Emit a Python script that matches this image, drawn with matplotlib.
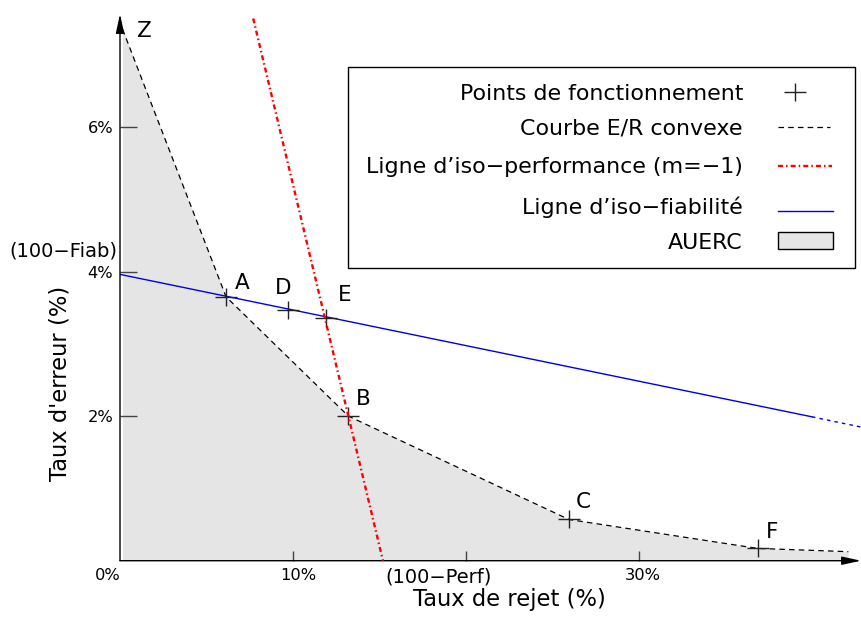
import matplotlib
matplotlib.use('Agg')
import matplotlib.pyplot as plt
from matplotlib.lines import Line2D
from matplotlib.patches import Rectangle
from matplotlib.path import Path
from matplotlib.transforms import ScaledTranslation

plt.rcParams['font.family'] = ['DejaVu Sans']
plt.rcParams['lines.scale_dashes'] = False

# Convex error/reject curve (reject rate %, error rate %)
curve_reject = [0.15, 6.13, 13.2, 25.95, 36.85, 42.1]
curve_error = [7.35, 3.65, 2.0, 0.57, 0.17, 0.125]

# Operating points
point_labels = ['A', 'D', 'E', 'B', 'C', 'F']
point_reject = [6.13, 9.73, 11.9, 13.2, 25.95, 36.85]
point_error = [3.65, 3.47, 3.36, 2.0, 0.57, 0.17]

# Iso-performance line (slope -1) through B
iso_perf_reject = [7.7, 15.2]
iso_perf_error = [7.5, 0.0]

# Iso-reliability line: solid part, then extrapolated part
iso_fiab_reject = [0.0, 40.0, 42.8]
iso_fiab_error = [3.96, 1.99, 1.85]

x_ticks = [0, 10, 20, 30]
x_tick_labels = ['0%', '10%', '(100\u2212Perf)', '30%']
y_ticks = [2, 4, 6]
y_tick_labels = ['2%', '4%', '6%']

legend_labels = ['Points de fonctionnement', 'Courbe E/R convexe',
                 'Ligne d\u2019iso\u2212performance (m=\u22121)',
                 'Ligne d\u2019iso\u2212fiabilit\u00e9', 'AUERC']

W, H = 861, 617
fig = plt.figure(figsize=(W / 100, H / 100), dpi=100)
x0, x1, y0, y1 = 120, 861, 560.7, 14
ax = fig.add_axes([x0 / W, 1 - y0 / H, (x1 - x0) / W, (y0 - y1) / H])
ax.set_xlim(0, (x1 - x0) / 17.3)
ax.set_ylim(0, (y0 - y1) / 72.3)

fill_c = '#e5e5e5'
cross_c = '#222222'
blue_c = '#0000e6'
dash_black = (4, 3)
dash_red = (3.6, 2.2, 1.1, 2.2)
# slightly wide '+' marker
cross = Path([(-1.26, 0), (1.26, 0), (0, -1), (0, 1)],
             [Path.MOVETO, Path.LINETO, Path.MOVETO, Path.LINETO])
cross_ms = 16.3

ax.fill_between(curve_reject, 0, curve_error, color=fill_c, lw=0, zorder=1)
ax.plot(curve_reject, curve_error, color='black', lw=0.9, dashes=dash_black, zorder=3)
ax.plot(iso_fiab_reject[:2], iso_fiab_error[:2], color=blue_c, lw=1.0, zorder=3)
ax.plot(iso_fiab_reject[1:], iso_fiab_error[1:], color=blue_c, lw=1.0,
        dashes=(2.5, 3), zorder=3)
ax.plot(point_reject, point_error, ls='none', marker=cross, ms=cross_ms, mew=1.0,
        color=cross_c, zorder=4)
ax.plot(iso_perf_reject, iso_perf_error, color='red', lw=1.7, dashes=dash_red, zorder=5)

# Point labels (offsets in pixels to the text baseline)
label_offsets = {'A': (15.7, 7.5), 'D': (-5.3, 15.8), 'E': (19, 17.2),
                 'B': (15, 11.5), 'C': (14, 11.5), 'F': (14.3, 10.8)}
for lab, xv, yv in zip(point_labels, point_reject, point_error):
    dx, dy = label_offsets[lab]
    ax.annotate(lab, (xv, yv), xytext=(dx, dy), textcoords='offset pixels',
                ha='center', va='baseline', fontsize=15.5, zorder=6)
ax.annotate('Z', (curve_reject[0], curve_error[0]), xytext=(21.5, -8.2),
            textcoords='offset pixels', ha='center', va='baseline', fontsize=15.5)
ax.annotate('(100\u2212Fiab)', (0, iso_fiab_error[0]), xytext=(-3, 18),
            textcoords='offset pixels', ha='right', va='baseline', fontsize=14,
            annotation_clip=False)

# Axes drawn as arrows
for spine in ax.spines.values():
    spine.set_visible(False)
arrow = dict(arrowstyle='-|>,head_length=1.15,head_width=0.25', color='black',
             lw=1.0, shrinkA=0, shrinkB=0, mutation_scale=10)
ax.annotate('', xy=(0, 1), xytext=(0, 0), xycoords='axes fraction', arrowprops=arrow,
            annotation_clip=False)
ax.annotate('', xy=(1, 0), xytext=(0, 0), xycoords='axes fraction', arrowprops=arrow,
            annotation_clip=False)

ax.set_xticks(x_ticks, x_tick_labels)
ax.set_yticks(y_ticks, y_tick_labels)
ax.tick_params(axis='x', direction='in', length=7.2, width=1, color='#444444',
               labelsize=11.7, pad=5)
ax.tick_params(axis='y', direction='in', length=12.2, width=1, color='#444444',
               labelsize=11.7, pad=5)
shifts = [-12, 5, -27, 4]
for lab, dx in zip(ax.get_xticklabels(), shifts):
    lab.set_transform(lab.get_transform() + ScaledTranslation(dx / 100, 0, fig.dpi_scale_trans))
ax.get_xticklabels()[2].set_fontsize(14)
ax.xaxis.get_major_ticks()[0].tick1line.set_visible(False)

ax.set_xlabel('Taux de rejet (%)', fontsize=16.3)
ax.set_ylabel("Taux d'erreur (%)", fontsize=16.3)
ax.xaxis.set_label_coords(0.525, -0.050)
ax.yaxis.set_label_coords(-0.066, 0.325)


# Legend box drawn in figure pixels
def fx(p):
    return p / W


def fy(p):
    return 1 - p / H


fig.add_artist(Rectangle((fx(348), fy(268)), fx(855) - fx(348), fy(67) - fy(268),
                         transform=fig.transFigure, fill=False, edgecolor='black', lw=1.0))
baselines = [100, 134, 173.3, 214, 249]
for text, b in zip(legend_labels, baselines):
    fig.text(fx(743), fy(b), text, ha='right', va='baseline', fontsize=15.9)
fig.add_artist(Line2D([fx(795)], [fy(92)], ls='none', marker=cross, ms=cross_ms, mew=1.0,
                      color=cross_c, transform=fig.transFigure))
fig.add_artist(Line2D([fx(778), fx(830)], [fy(127), fy(127)], color='black', lw=0.9,
                      dashes=dash_black, transform=fig.transFigure))
fig.add_artist(Line2D([fx(778), fx(832)], [fy(166), fy(166)], color='red', lw=1.7,
                      dashes=dash_red, transform=fig.transFigure))
fig.add_artist(Line2D([fx(778), fx(833)], [fy(210.7), fy(210.7)], color=blue_c, lw=1.0,
                      transform=fig.transFigure))
fig.add_artist(Rectangle((fx(778), fy(249)), fx(833) - fx(778), fy(232) - fy(249),
                         transform=fig.transFigure, facecolor=fill_c, edgecolor='black', lw=1.0))

fig.savefig('out.png', dpi=100)
